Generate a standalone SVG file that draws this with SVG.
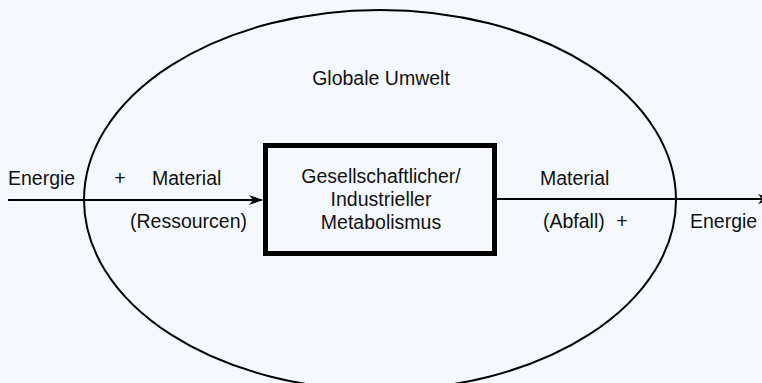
<svg xmlns="http://www.w3.org/2000/svg" width="762" height="383" viewBox="0 0 762 383">
<style>
text{font-family:"Liberation Sans",Arial,sans-serif;font-size:19.5px;fill:#111}
.c{text-anchor:middle}
.ln{stroke:#000;stroke-width:2;fill:none}
</style>
<defs>
<marker id="ah" viewBox="0 0 14 10" refX="13" refY="5" markerWidth="14" markerHeight="10" markerUnits="userSpaceOnUse" orient="auto">
<path d="M0,0 L14,5 L0,10 L4,5 Z" fill="#000"/>
</marker>
</defs>
<rect width="762" height="383" fill="#f5f9fd"/>
<g id="umwelt">
<ellipse cx="380" cy="200" rx="296" ry="190" class="ln"/>
<text x="381" y="85" class="c">Globale Umwelt</text>
</g>
<g id="metabolismus">
<rect x="265.5" y="145.5" width="229" height="108" fill="none" stroke="#000" stroke-width="5"/>
<text x="381" y="183" class="c">Gesellschaftlicher/</text>
<text x="381" y="206" class="c">Industrieller</text>
<text x="381" y="229" class="c">Metabolismus</text>
</g>
<g id="connectors">
<line x1="8" y1="200" x2="262" y2="200" class="ln" marker-end="url(#ah)"/>
<line x1="497" y1="199" x2="771" y2="199" class="ln" marker-end="url(#ah)"/>
</g>
<g id="labels">
<text x="8" y="185">Energie</text>
<text x="120" y="185" class="c">+</text>
<text x="152" y="185">Material</text>
<text x="130" y="228">(Ressourcen)</text>
<text x="540" y="185">Material</text>
<text x="543" y="228">(Abfall)</text>
<text x="622" y="228" class="c">+</text>
<text x="690" y="228">Energie</text>
</g>
</svg>
